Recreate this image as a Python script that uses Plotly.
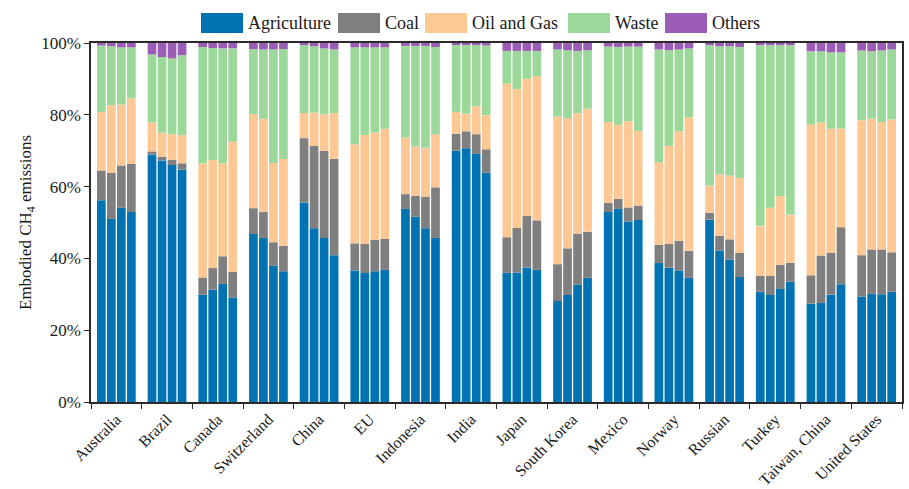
import plotly.graph_objects as go

# Regions on the x axis
regions = ["Australia", "Brazil", "Canada", "Switzerland", "China", "EU",
           "Indonesia", "India", "Japan", "South Korea", "Mexico", "Norway",
           "Russian", "Turkey", "Taiwan, China", "United States"]

# Share (%) of embodied CH4 emissions by source; four periods per region
agriculture = [
    [56.2, 51.0, 54.1, 52.9], [68.9, 67.3, 66.0, 64.7], [29.9, 31.3, 32.9, 29.1],
    [46.8, 45.7, 38.0, 36.4], [55.6, 48.4, 45.7, 40.9], [36.6, 35.9, 36.4, 36.8],
    [53.8, 51.6, 48.4, 45.7], [70.0, 70.7, 69.1, 63.9], [36.0, 36.1, 37.5, 36.8],
    [28.1, 29.8, 32.7, 34.6], [52.9, 53.8, 50.3, 50.7], [38.7, 37.4, 36.6, 34.6],
    [50.8, 42.2, 39.7, 34.8], [30.7, 29.8, 31.5, 33.5], [27.4, 27.6, 29.9, 32.8],
    [29.4, 30.2, 30.0, 30.7],
]
coal = [
    [8.3, 12.8, 11.8, 13.4], [0.9, 1.0, 1.4, 1.8], [4.8, 6.0, 7.7, 7.1],
    [7.2, 7.2, 6.5, 7.1], [17.9, 22.9, 24.3, 26.8], [7.6, 8.1, 8.8, 8.7],
    [4.1, 5.8, 8.8, 14.1], [4.7, 4.7, 5.5, 6.5], [9.9, 12.4, 14.3, 13.8],
    [10.3, 13.0, 14.2, 12.8], [2.6, 2.8, 3.9, 4.0], [5.1, 6.6, 8.3, 7.5],
    [1.9, 4.1, 5.6, 6.7], [4.5, 5.3, 6.7, 5.3], [7.9, 13.2, 11.7, 15.9],
    [11.5, 12.3, 12.5, 11.0],
]
oil_and_gas = [
    [16.3, 18.9, 17.0, 18.3], [8.1, 6.7, 7.2, 7.8], [31.7, 30.1, 25.9, 36.3],
    [26.2, 26.0, 22.1, 24.2], [7.0, 9.3, 10.1, 12.8], [27.6, 30.4, 29.9, 30.6],
    [15.8, 13.8, 13.6, 14.8], [6.1, 4.9, 7.8, 9.5], [42.8, 38.7, 38.2, 40.2],
    [41.1, 36.3, 33.6, 34.3], [22.5, 20.6, 24.0, 20.8], [23.0, 27.3, 30.5, 37.2],
    [7.6, 17.1, 17.8, 20.9], [13.9, 19.0, 19.2, 13.4], [42.0, 37.1, 34.5, 27.5],
    [37.6, 36.4, 35.5, 37.0],
]
waste = [
    [18.5, 16.4, 15.9, 14.2], [18.9, 21.1, 21.1, 22.3], [32.5, 31.2, 32.0, 26.0],
    [18.1, 19.3, 31.6, 30.6], [18.9, 18.5, 18.4, 17.7], [27.0, 24.4, 23.7, 22.7],
    [25.5, 28.0, 28.4, 24.3], [18.7, 19.2, 17.1, 19.4], [9.1, 10.6, 7.8, 7.0],
    [18.7, 18.9, 17.3, 16.3], [21.0, 21.7, 20.8, 23.5], [31.4, 26.7, 22.8, 19.2],
    [39.1, 35.7, 36.0, 36.5], [50.3, 45.3, 42.0, 47.2], [20.4, 19.8, 21.3, 21.2],
    [19.4, 18.8, 19.9, 19.5],
]
others = [
    [0.7, 0.9, 1.2, 1.2], [3.2, 3.9, 4.3, 3.4], [1.1, 1.4, 1.5, 1.5],
    [1.7, 1.8, 1.8, 1.7], [0.6, 0.9, 1.5, 1.8], [1.2, 1.2, 1.2, 1.2],
    [0.8, 0.8, 0.8, 1.1], [0.5, 0.5, 0.5, 0.7], [2.2, 2.2, 2.2, 2.2],
    [1.8, 2.0, 2.2, 2.0], [1.0, 1.1, 1.0, 1.0], [1.8, 2.0, 1.8, 1.5],
    [0.6, 0.9, 0.9, 1.1], [0.6, 0.6, 0.6, 0.6], [2.3, 2.3, 2.6, 2.6],
    [2.1, 2.3, 2.1, 1.8],
]

sectors = ["Agriculture", "Coal", "Oil and Gas", "Waste", "Others"]
sector_values = [agriculture, coal, oil_and_gas, waste, others]
colors = ["#0173B2", "#7F7F7F", "#FDC894", "#9DD89B", "#9B5DB5"]

n_periods = 4
y_ticks = [0, 20, 40, 60, 80, 100]

serif = "Liberation Serif"
text_color = "#1a1a1a"
axis_line = "#2a2a2a"

W, H = 909, 489
M_L, M_R, M_T, M_B = 91, 7, 43, 87

fig = go.Figure()

# Stack the sectors inside each period bar; periods sit side by side per region
bases = [[0.0] * len(regions) for _ in range(n_periods)]
for name, values, color in zip(sectors, sector_values, colors):
    for p in range(n_periods):
        heights = [row[p] for row in values]
        fig.add_trace(go.Bar(
            x=regions,
            y=heights,
            base=list(bases[p]),
            offsetgroup=str(p),
            name=name,
            legendgroup=name,
            showlegend=False,
            marker=dict(color=color, line=dict(width=0)),
        ))
        bases[p] = [b + h for b, h in zip(bases[p], heights)]

# Legend row above the plot: wide colour swatches followed by their labels
plot_w = W - M_L - M_R
plot_h = H - M_T - M_B


def px_to_paper_x(px):
    return (px - M_L) / plot_w


def px_to_paper_y(py):
    return (H - M_B - py) / plot_h


swatch_left = [201, 338, 425, 568, 665]
swatch_w, swatch_top, swatch_bottom = 42, 13, 33
for name, color, left in zip(sectors, colors, swatch_left):
    fig.add_shape(
        type="rect", xref="paper", yref="paper",
        x0=px_to_paper_x(left), x1=px_to_paper_x(left + swatch_w),
        y0=px_to_paper_y(swatch_bottom), y1=px_to_paper_y(swatch_top),
        fillcolor=color, line=dict(width=0), layer="above",
    )
    fig.add_annotation(
        xref="paper", yref="paper",
        x=px_to_paper_x(left + swatch_w + 3),
        y=px_to_paper_y((swatch_top + swatch_bottom) / 2),
        text=name, showarrow=False, xanchor="left", yanchor="middle",
        font=dict(family=serif, size=18, color=text_color),
    )

fig.update_layout(
    width=W,
    height=H,
    margin=dict(l=M_L, r=M_R, t=M_T, b=M_B, autoexpand=False),
    barmode="group",
    bargap=0.21,
    bargroupgap=0.13,
    plot_bgcolor="white",
    paper_bgcolor="white",
    showlegend=False,
    font=dict(family=serif, size=17, color=text_color),
    xaxis=dict(
        type="category",
        tickson="boundaries",
        ticks="outside",
        ticklen=5,
        tickcolor=axis_line,
        tickangle=-45,
        tickfont=dict(family=serif, size=16, color=text_color),
        automargin=False,
        showline=True,
        linecolor=axis_line,
        linewidth=1.5,
        mirror=True,
        showgrid=False,
    ),
    yaxis=dict(
        range=[0, 100],
        tickvals=y_ticks,
        ticktext=[f"{v}%" for v in y_ticks],
        ticks="outside",
        ticklen=5,
        tickcolor=axis_line,
        tickfont=dict(family=serif, size=17, color=text_color),
        automargin=False,
        showline=True,
        linecolor=axis_line,
        linewidth=1.5,
        mirror=True,
        showgrid=False,
        zeroline=False,
        title=dict(text="Embodied CH<sub>4</sub> emissions",
                   font=dict(family=serif, size=17, color=text_color),
                   standoff=5),
    ),
)

fig.write_html("out.html")
